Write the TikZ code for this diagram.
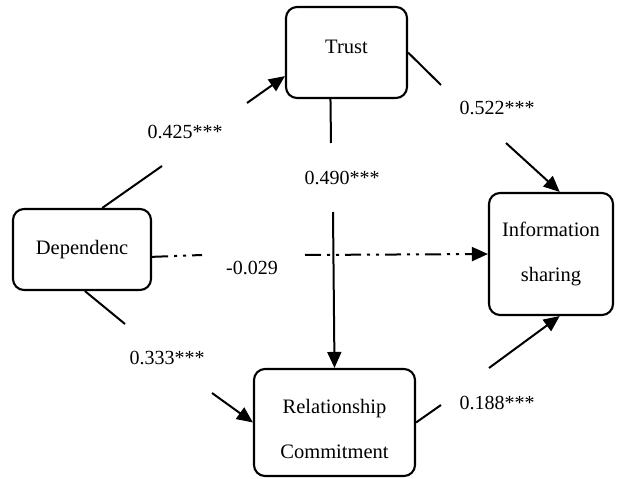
\documentclass[tikz,border=0pt]{standalone}
\usepackage{fontspec}
\setmainfont{Liberation Serif}
\usetikzlibrary{arrows.meta}

\begin{document}
\begin{tikzpicture}[x=1pt,y=-1pt,
    box/.style={draw,line width=2.1pt,rounded corners=11pt,align=center,inner sep=0pt,font=\fontsize{20.5}{45}\selectfont},
    lbl/.style={inner sep=0pt,font=\fontsize{20}{24}\selectfont},
    link/.style={line width=2pt},
    tip/.style={link,-{Triangle[length=16pt,width=14pt]}},
    dashdot/.style={dash pattern=on 16pt off 6pt on 3pt off 6pt on 3pt off 6pt}]
    \useasboundingbox (0,0) rectangle (625,479);
    \node[box,minimum width=121pt,minimum height=91pt,text depth=12pt] (trust) at (346.5,52.5) {Trust};
    \node[box,minimum width=138pt,minimum height=81pt] (dep) at (82,249.5) {Dependenc};
    \node[box,minimum width=124pt,minimum height=122pt] (info) at (551,254) {Information\\sharing};
    \node[box,minimum width=161pt,minimum height=107pt,text height=71pt,text depth=0pt] (rc) at (334.5,422.5) {Relationship\\Commitment};
    \coordinate (g1a) at (162,166);
    \coordinate (g1b) at (247,103);
    \coordinate (g2a) at (441,85);
    \coordinate (g2b) at (506,143);
    \coordinate (g3a) at (331,143);
    \coordinate (g3b) at (333,212);
    \coordinate (g4a) at (202,255);
    \coordinate (g4b) at (305,255);
    \coordinate (g5a) at (125,324);
    \coordinate (g5b) at (212,393);
    \coordinate (g6a) at (441,405);
    \coordinate (g6b) at (489,368);
    \draw[link] (dep.64) -- (g1a);
    \draw[tip] (g1b) -- (trust.201);
    \node[lbl] (l1) at (185,132) {0.425***};
    \draw[link] (trust.east) -- (g2a);
    \draw[tip] (g2b) -- (info.82);
    \node[lbl] (l2) at (497,108) {0.522***};
    \draw[link] (trust.251) -- (g3a);
    \draw[tip] (g3b) -- (rc.north);
    \node[lbl] (l3) at (342,178) {0.490***};
    \draw[link,dashdot] (dep.354) -- (g4a);
    \draw[tip,dashdot] (g4b) -- (info.west);
    \node[lbl] (l4) at (252,268) {-0.029};
    \draw[link] (dep.274) -- (g5a);
    \draw[tip] (g5b) -- (rc.west);
    \node[lbl] (l5) at (167,358) {0.333***};
    \draw[link] (rc.east) -- (g6a);
    \draw[tip] (g6b) -- (info.278);
    \node[lbl] (l6) at (497,403) {0.188***};
\end{tikzpicture}
\end{document}
